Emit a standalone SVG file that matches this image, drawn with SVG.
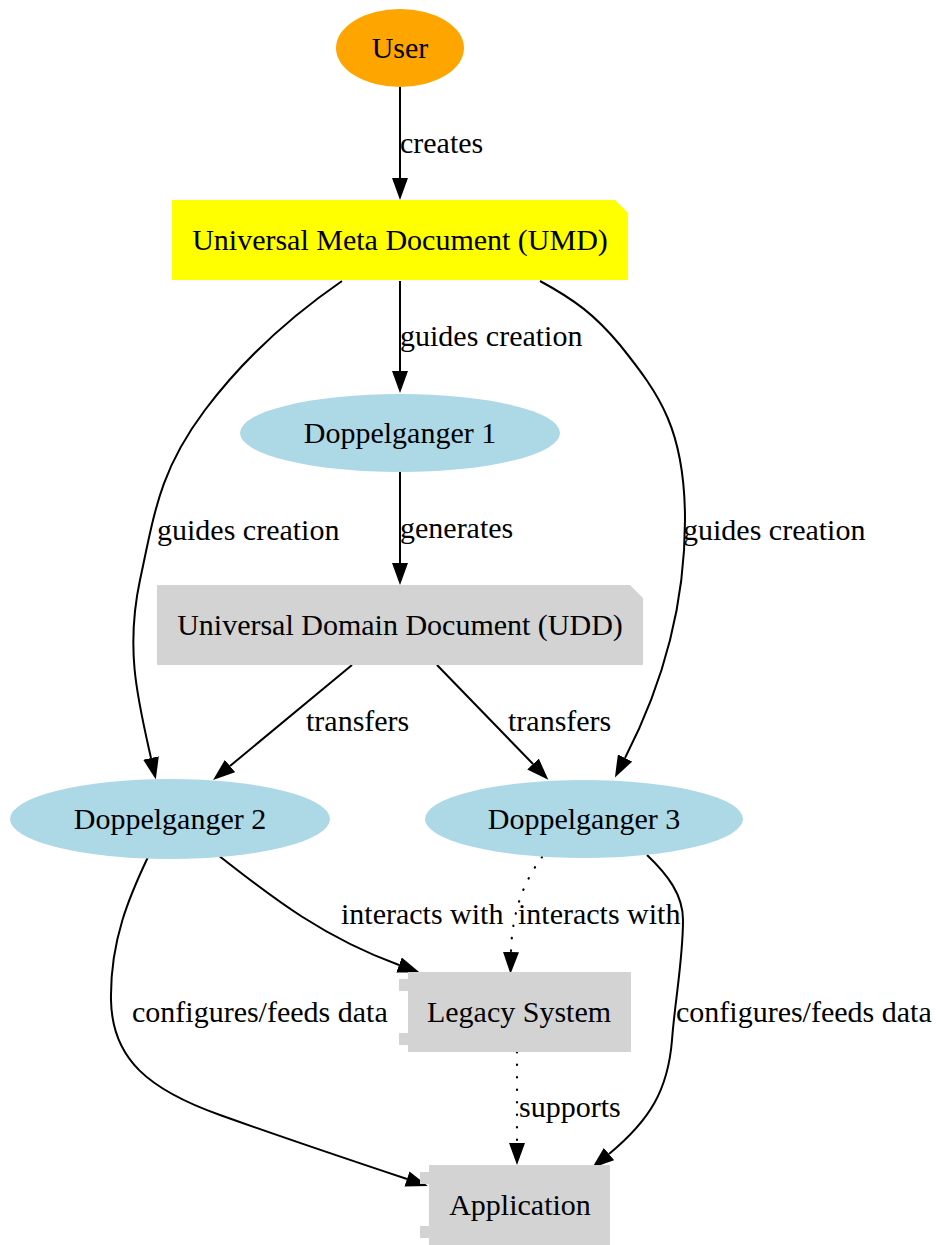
<svg xmlns="http://www.w3.org/2000/svg" width="942" height="1245" viewBox="0 0 942 1245">
<defs>
<marker id="arr" viewBox="0 0 22 16" refX="0" refY="8" markerWidth="22" markerHeight="16" markerUnits="userSpaceOnUse" orient="auto">
<path d="M0,0 L22,8 L0,16 z" fill="#000"/>
</marker>
<style>
text{font-family:"Liberation Serif","Times New Roman",serif;font-size:30px;fill:#000}
.n{text-anchor:middle}
.e{fill:none;stroke:#000;stroke-width:2;marker-end:url(#arr)}
.d{stroke-dasharray:0.5 12;stroke-linecap:round;stroke-width:2.2}
</style>
</defs>
<rect width="942" height="1245" fill="#fff"/>
<g id="connectors">
<path class="e" d="M400,87 L400,178"/>
<path class="e" d="M400,281 L400,371"/>
<path class="e" d="M400,472 L400,563"/>
<path class="e" d="M352,665 L230,766"/>
<path class="e" d="M437,665 L533,764"/>
<path class="e" d="M342,281 C300,310 250,350 205,410 C160,470 155,510 140,580 C125,650 138,700 151,758"/>
<path class="e" d="M540,281 C575,300 595,315 620,345 C660,395 685,430 685,520 C685,610 660,690 625,758"/>
<path class="e" d="M218,855 C275,900 325,938 399,965"/>
<path class="e d" d="M542,857 C525,880 512,910 511,952"/>
<path class="e" d="M148,857 C130,895 110,940 111,1000 C112,1060 150,1090 220,1115 C290,1140 350,1160 407,1179"/>
<path class="e" d="M647,855 C668,875 683,895 683,920 C683,960 675,1000 672,1040 C668,1090 650,1120 609,1154"/>
<path class="e d" d="M517,1052 L517,1143"/>
<text x="400" y="153">creates</text>
<text x="400" y="346">guides creation</text>
<text x="157" y="540">guides creation</text>
<text x="683" y="540">guides creation</text>
<text x="400" y="538">generates</text>
<text x="306" y="731">transfers</text>
<text x="508" y="731">transfers</text>
<text x="341" y="924">interacts with</text>
<text x="518" y="924">interacts with</text>
<text x="132" y="1022">configures/feeds data</text>
<text x="676" y="1022">configures/feeds data</text>
<text x="519" y="1117">supports</text>
</g>
<g id="user">
<ellipse cx="400" cy="48" rx="64" ry="39" fill="#FFA500"/>
<text class="n" x="400" y="58">User</text>
</g>
<g id="umd">
<polygon points="172,200 615,200 628,213 628,280 172,280" fill="#FFFF00"/>
<text class="n" x="400" y="250">Universal Meta Document (UMD)</text>
</g>
<g id="doppelganger1">
<ellipse cx="400" cy="433" rx="160" ry="39" fill="#ADD8E6"/>
<text class="n" x="400" y="443">Doppelganger 1</text>
</g>
<g id="udd">
<polygon points="157,585 630,585 643,598 643,665 157,665" fill="#D3D3D3"/>
<text class="n" x="400" y="635">Universal Domain Document (UDD)</text>
</g>
<g id="doppelganger2">
<ellipse cx="170" cy="819" rx="160" ry="40" fill="#ADD8E6"/>
<text class="n" x="170" y="829">Doppelganger 2</text>
</g>
<g id="doppelganger3">
<ellipse cx="584" cy="819" rx="159" ry="39" fill="#ADD8E6"/>
<text class="n" x="584" y="829">Doppelganger 3</text>
</g>
<g id="legacy">
<rect x="408" y="972" width="223" height="80" fill="#D3D3D3"/>
<rect x="399" y="979" width="11" height="12" fill="#D3D3D3"/>
<rect x="399" y="1033" width="11" height="12" fill="#D3D3D3"/>
<text class="n" x="519" y="1022">Legacy System</text>
</g>
<g id="application">
<rect x="429" y="1165" width="181" height="80" fill="#D3D3D3"/>
<rect x="420" y="1172" width="11" height="12" fill="#D3D3D3"/>
<rect x="420" y="1226" width="11" height="12" fill="#D3D3D3"/>
<text class="n" x="520" y="1215">Application</text>
</g>
</svg>
